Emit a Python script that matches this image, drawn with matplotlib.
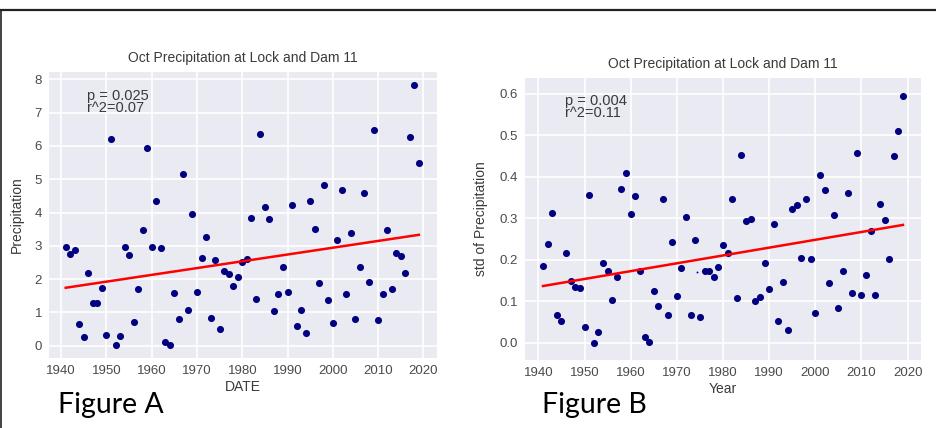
import matplotlib.pyplot as plt
import numpy as np
from matplotlib.lines import Line2D

# ---------------------------------------------------------------------------
# Data
# ---------------------------------------------------------------------------
years = np.arange(1941, 2020)

oct_precip = [
    2.97, 2.74, 2.86, 0.65, 0.27, 2.19, 1.29, 1.27, 1.73, 0.32,
    6.21, 0.01, 0.29, 2.97, 2.71, 0.70, 1.70, 3.47, 5.95, 2.95,
    4.34, 2.93, 0.11, 0.02, 1.58, 0.79, 5.16, 1.07, 3.97, 1.60,
    2.62, 3.25, 0.82, 2.57, 0.49, 2.25, 2.14, 1.80, 2.05, 2.51,
    2.61, 3.83, 1.41, 6.36, 4.16, 3.80, 1.03, 1.55, 2.36, 1.61,
    4.23, 0.59, 1.06, 0.37, 4.34, 3.50, 1.88, 4.83, 1.38, 0.67,
    3.18, 4.67, 1.54, 3.37, 0.81, 2.35, 4.60, 1.92, 6.47, 0.76,
    1.55, 3.49, 1.70, 2.77, 2.69, 2.18, 6.27, 7.84, 5.49,
]

oct_std = [
    0.184, 0.237, 0.313, 0.067, 0.052, 0.217, 0.148, 0.134, 0.132, 0.038,
    0.357, 0.001, 0.026, 0.193, 0.173, 0.103, 0.159, 0.371, 0.408, 0.310,
    0.354, 0.173, 0.014, 0.002, 0.125, 0.090, 0.346, 0.067, 0.243, 0.114,
    0.180, 0.303, 0.068, 0.248, 0.062, 0.172, 0.173, 0.158, 0.182, 0.235,
    0.216, 0.347, 0.109, 0.452, 0.294, 0.299, 0.100, 0.111, 0.193, 0.129,
    0.287, 0.053, 0.146, 0.030, 0.322, 0.332, 0.204, 0.347, 0.201, 0.072,
    0.403, 0.368, 0.144, 0.308, 0.083, 0.172, 0.361, 0.121, 0.457, 0.115,
    0.163, 0.269, 0.116, 0.334, 0.297, 0.202, 0.449, 0.511, 0.595,
]

# fitted trend lines (end points)
trend_x = [1941, 2019]
trend_a = [1.74, 3.33]
trend_b = [0.137, 0.284]

# stray speck in panel B
speck_x = [1974.3]
speck_y = [0.170]

stats_a = "p = 0.025\nr^2=0.07"
stats_b = "p = 0.004\nr^2=0.11"
year_ticks = [1940, 1950, 1960, 1970, 1980, 1990, 2000, 2010, 2020]

# ---------------------------------------------------------------------------
# Style
# ---------------------------------------------------------------------------
plt.rcParams["font.family"] = ["Liberation Sans", "DejaVu Sans"]

BG = "#EAEAF2"
NAVY = "#000080"
RED = "#FF0000"
TXT = "#3a3a3a"
TICK = "#4a4a4a"

fig = plt.figure(figsize=(9.37, 4.28), dpi=100)
fig.patch.set_facecolor("white")


def style_axes(ax):
    ax.set_facecolor(BG)
    for s in ax.spines.values():
        s.set_visible(False)
    ax.grid(True, color="white", lw=1.2)
    ax.set_axisbelow(True)
    ax.tick_params(length=0, labelsize=9.5, colors=TICK, pad=5)


# ── Panel A ────────────────────────────────────────────────────────────────
ax = fig.add_axes([0.0523, 0.1636, 0.414, 0.668])
style_axes(ax)
ax.scatter(years, oct_precip, s=26, color=NAVY, lw=0, zorder=3)
ax.plot(trend_x, trend_a, color=RED, lw=1.8, zorder=4)
ax.set_xlim(1937.3, 2023.0)
ax.set_ylim(-0.37, 8.22)
ax.set_xticks(year_ticks)
ax.set_yticks(range(0, 9))
ax.set_title("Oct Precipitation at Lock and Dam 11", fontsize=10, color=TXT, pad=7)
ax.set_xlabel("DATE", fontsize=10, color=TXT, labelpad=2)
ax.set_ylabel("Precipitation", fontsize=10, color=TXT, labelpad=8)
ax.text(1945.6, 7.72, stats_a, fontsize=10.5, color=TXT, va="top",
        linespacing=0.85)

# ── Panel B ────────────────────────────────────────────────────────────────
ax2 = fig.add_axes([0.5603, 0.1589, 0.4226, 0.6589])
style_axes(ax2)
ax2.scatter(years, oct_std, s=26, color=NAVY, lw=0, zorder=3)
ax2.scatter(speck_x, speck_y, s=2, color="blue", lw=0, zorder=3)
ax2.plot(trend_x, trend_b, color=RED, lw=1.8, zorder=4)
ax2.set_xlim(1937.1, 2022.9)
ax2.set_ylim(-0.041, 0.6376)
ax2.set_xticks(year_ticks)
ax2.set_yticks([0.0, 0.1, 0.2, 0.3, 0.4, 0.5, 0.6])
ax2.set_yticklabels(["0.0", "0.1", "0.2", "0.3", "0.4", "0.5", "0.6"])
ax2.set_title("Oct Precipitation at Lock and Dam 11", fontsize=10, color=TXT, pad=7)
ax2.set_xlabel("Year", fontsize=10, color=TXT, labelpad=2)
ax2.set_ylabel("std of Precipitation", fontsize=10, color=TXT, labelpad=8)
ax2.text(1945.7, 0.6, stats_b, fontsize=10.5, color=TXT, va="top",
         linespacing=0.85)

# ── Figure captions and frame ─────────────────────────────────────────────
fig.text(58 / 937, 1 - 405 / 428, "Figure A", fontsize=20.5, family="Lato",
         va="center", ha="left", color="black")
fig.text(542 / 937, 1 - 405 / 428, "Figure B", fontsize=20.5, family="Lato",
         va="center", ha="left", color="black")

fig.add_artist(Line2D([0, 1], [1 - 10 / 428] * 2, transform=fig.transFigure,
                      color="#222222", lw=1.6))
fig.add_artist(Line2D([1 / 937] * 2, [0, 1 - 10 / 428], transform=fig.transFigure,
                      color="#222222", lw=1.2))

fig.savefig("out.png", dpi=100)
